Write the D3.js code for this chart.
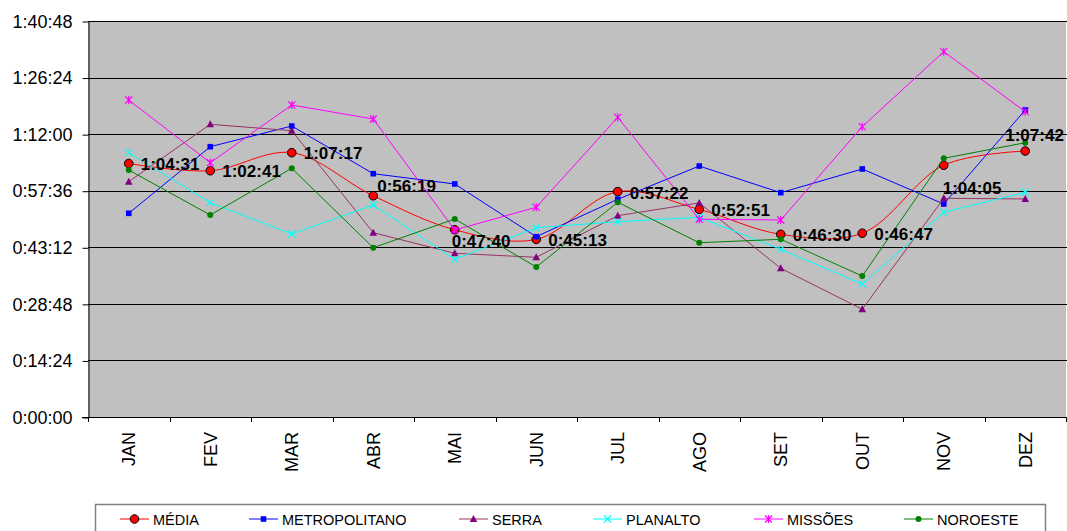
<!DOCTYPE html>
<html>
<head>
<meta charset="utf-8">
<script src="https://cdn.jsdelivr.net/npm/d3@7"></script>
<style>
  html, body { margin: 0; padding: 0; background: #fff; }
  svg { display: block; font-family: "Liberation Sans", Arial, sans-serif; }
</style>
</head>
<body>
<svg id="chart" width="1067" height="531"></svg>
<script>
// Monthly average times per region (h:mm:ss)
const months = ["JAN", "FEV", "MAR", "ABR", "MAI", "JUN", "JUL", "AGO", "SET", "OUT", "NOV", "DEZ"];

const media         = ["1:04:31", "1:02:41", "1:07:17", "0:56:19", "0:47:40", "0:45:13", "0:57:22", "0:52:51", "0:46:30", "0:46:47", "1:04:05", "1:07:42"];
const metropolitano = ["0:51:51", "1:08:48", "1:14:04", "1:01:56", "0:59:19", "0:45:54", "0:55:25", "1:03:53", "0:57:06", "1:03:08", "0:54:13", "1:18:09"];
const serra         = ["0:59:54", "1:14:30", "1:12:53", "0:46:55", "0:41:40", "0:40:39", "0:51:15", "0:54:30", "0:37:51", "0:27:25", "0:55:40", "0:55:30"];
const planalto      = ["1:07:17", "0:54:33", "0:46:35", "0:53:58", "0:40:08", "0:48:11", "0:49:43", "0:50:50", "0:42:41", "0:33:51", "0:52:06", "0:57:12"];
const missoes       = ["1:20:41", "1:04:44", "1:19:25", "1:15:51", "0:47:36", "0:53:23", "1:16:17", "0:50:20", "0:50:09", "1:13:54", "1:33:00", "1:17:43"];
const noroeste      = ["1:02:52", "0:51:25", "1:03:18", "0:43:06", "0:50:24", "0:38:11", "0:54:39", "0:44:22", "0:45:14", "0:35:53", "1:05:51", "1:09:49"];

const yTickLabels = ["0:00:00", "0:14:24", "0:28:48", "0:43:12", "0:57:36", "1:12:00", "1:26:24", "1:40:48"];

// h:mm:ss <-> seconds
const toSec = s => { const [h, m, x] = s.split(":").map(Number); return h * 3600 + m * 60 + x; };
const fmt = v => { const h = Math.floor(v / 3600), m = Math.floor((v % 3600) / 60), s = Math.round(v % 60);
  return h + ":" + String(m).padStart(2, "0") + ":" + String(s).padStart(2, "0"); };

const series = [
  { name: "MÉDIA",         values: media,         line: "#ff0000", marker: "bigcircle", fill: "#ff0000", smooth: true },
  { name: "METROPOLITANO", values: metropolitano, line: "#0000ff", marker: "square",    fill: "#0000ff" },
  { name: "SERRA",         values: serra,         line: "#993366", marker: "triangle",  fill: "#800080" },
  { name: "PLANALTO",      values: planalto,      line: "#00ffff", marker: "x",         fill: "#00ffff" },
  { name: "MISSÕES",       values: missoes,       line: "#ff00ff", marker: "star",      fill: "#ff00ff" },
  { name: "NOROESTE",      values: noroeste,      line: "#008000", marker: "circle",    fill: "#008000" }
];

const svg = d3.select("#chart");
const plot = { left: 88, right: 1066, top: 21, bottom: 417 };

const yTickSecs = yTickLabels.map(toSec);
const x = d3.scaleBand().domain(months).range([plot.left, plot.right]).padding(0);
const y = d3.scaleLinear().domain([0, d3.max(yTickSecs)]).range([plot.bottom, plot.top]);
const cx = m => x(m) + x.bandwidth() / 2;

// plot background
svg.append("rect")
  .attr("x", plot.left).attr("y", plot.top)
  .attr("width", plot.right - plot.left).attr("height", plot.bottom - plot.top)
  .attr("fill", "#c0c0c0");

// horizontal gridlines
svg.append("g").selectAll("line").data(yTickSecs.filter(v => v > 0)).join("line")
  .attr("x1", plot.left).attr("x2", plot.right + 1)
  .attr("y1", d => Math.round(y(d)) + 0.5).attr("y2", d => Math.round(y(d)) + 0.5)
  .attr("stroke", "#000").attr("stroke-width", 1);

// y axis
const yAxis = svg.append("g")
  .attr("transform", `translate(${plot.left + 0.5},0.5)`)
  .call(d3.axisLeft(y).tickValues(yTickSecs).tickFormat((d, i) => yTickLabels[i]).tickSize(6).tickPadding(10).tickSizeOuter(0));
yAxis.selectAll("text").attr("font-size", 18).attr("fill", "#000").attr("font-family", "Liberation Sans, Arial, sans-serif");
yAxis.selectAll("line, path").attr("stroke", "#000");

// x axis: ticks between categories
const xg = svg.append("g");
xg.append("line")
  .attr("x1", plot.left - 6).attr("x2", plot.right + 1)
  .attr("y1", plot.bottom + 0.5).attr("y2", plot.bottom + 0.5)
  .attr("stroke", "#000");
const bounds = months.map(m => x(m)).concat([x(months[months.length - 1]) + x.bandwidth()]);
xg.selectAll("line.tick").data(bounds).join("line").attr("class", "tick")
  .attr("x1", d => Math.round(d) + 0.5).attr("x2", d => Math.round(d) + 0.5)
  .attr("y1", plot.bottom).attr("y2", plot.bottom + 5)
  .attr("stroke", "#000");
xg.selectAll("text").data(months).join("text")
  .attr("transform", d => `translate(${cx(d) + 6.5},432) rotate(-90)`)
  .attr("text-anchor", "end")
  .attr("font-size", 18)
  .attr("fill", "#000")
  .text(d => d);

// markers
function drawMarker(g, type, fill, px, py) {
  if (type === "bigcircle") {
    g.append("circle").attr("cx", px).attr("cy", py).attr("r", 4.3)
      .attr("fill", fill).attr("stroke", "#000").attr("stroke-width", 1);
  } else if (type === "circle") {
    g.append("circle").attr("cx", px).attr("cy", py).attr("r", 3).attr("fill", fill);
  } else if (type === "square") {
    g.append("rect").attr("x", px - 2.8).attr("y", py - 2.8).attr("width", 5.6).attr("height", 5.6).attr("fill", fill);
  } else if (type === "triangle") {
    g.append("path").attr("d", `M${px},${py - 4}L${px + 3.8},${py + 3}L${px - 3.8},${py + 3}Z`).attr("fill", fill);
  } else if (type === "x") {
    g.append("path").attr("d", `M${px - 3.5},${py - 3.5}L${px + 3.5},${py + 3.5}M${px + 3.5},${py - 3.5}L${px - 3.5},${py + 3.5}`)
      .attr("stroke", fill).attr("stroke-width", 1.2).attr("fill", "none");
  } else if (type === "star") {
    g.append("path").attr("d", `M${px - 3.5},${py - 3.5}L${px + 3.5},${py + 3.5}M${px + 3.5},${py - 3.5}L${px - 3.5},${py + 3.5}M${px},${py - 4}L${px},${py + 4}`)
      .attr("stroke", fill).attr("stroke-width", 1.2).attr("fill", "none");
  }
}

// series lines and markers
series.forEach(s => {
  const pts = months.map((m, i) => [cx(m), y(toSec(s.values[i]))]);
  const line = d3.line().curve(s.smooth ? d3.curveCatmullRom.alpha(0.5) : d3.curveLinear);
  const g = svg.append("g");
  g.append("path").attr("d", line(pts)).attr("fill", "none").attr("stroke", s.line).attr("stroke-width", 1);
  pts.forEach(p => drawMarker(g, s.marker, s.fill, p[0], p[1]));
});

// value labels for MÉDIA (dx, dy relative to the point)
const labelOffsets = [[12, 6], [12, 6], [12, 6], [4, -4], [-3, 17], [12, 7], [12, 7], [12, 7], [12, 7], [12, 7], [-1, 29], [-20, -10]];
svg.append("g").selectAll("text").data(months).join("text")
  .attr("x", (m, i) => cx(m) + labelOffsets[i][0])
  .attr("y", (m, i) => y(toSec(media[i])) + labelOffsets[i][1])
  .attr("font-size", 17).attr("font-weight", "bold").attr("fill", "#000")
  .text((m, i) => fmt(toSec(media[i])));

// legend
const lg = svg.append("g");
lg.append("rect").attr("x", 95.5).attr("y", 504.5).attr("width", 950).attr("height", 40)
  .attr("fill", "#fff").attr("stroke", "#808080").attr("stroke-width", 1.5);
const legendX = [120, 249, 459, 593, 754, 904];
series.forEach((s, i) => {
  const lx = legendX[i], ly = 519;
  lg.append("line").attr("x1", lx).attr("x2", lx + 29).attr("y1", ly).attr("y2", ly)
    .attr("stroke", s.line).attr("stroke-width", 1);
  drawMarker(lg, s.marker, s.fill, lx + 14.5, ly);
  lg.append("text").attr("x", lx + 33).attr("y", ly + 5.5)
    .attr("font-size", 14.5).attr("fill", "#000").text(s.name);
});
</script>
</body>
</html>
